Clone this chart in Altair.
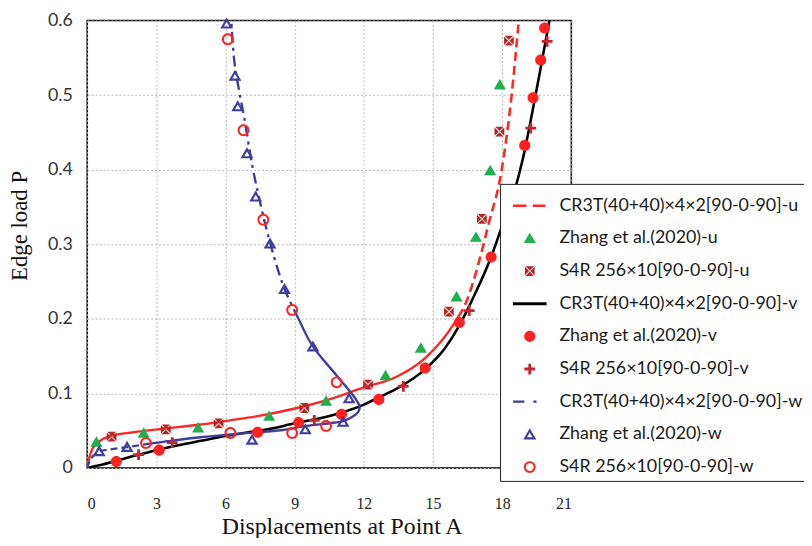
import altair as alt
import pandas as pd

x_ticks = [0, 3, 6, 9, 12, 15, 18, 21]
y_ticks = [0, 0.1, 0.2, 0.3, 0.4, 0.5, 0.6]

series_names = [
    "CR3T(40+40)×4×2[90-0-90]-u",
    "Zhang et al.(2020)-u",
    "S4R 256×10[90-0-90]-u",
    "CR3T(40+40)×4×2[90-0-90]-v",
    "Zhang et al.(2020)-v",
    "S4R 256×10[90-0-90]-v",
    "CR3T(40+40)×4×2[90-0-90]-w",
    "Zhang et al.(2020)-w",
    "S4R 256×10[90-0-90]-w",
]
series_colors = ["#FF2626", "#1FAF4B", "#B02828", "#000000", "#FF2020",
                 "#C4262E", "#3E3E9E", "#3E3E9E", "#FF2020"]

# CR3T curves
u_x = [0, 0.1, 0.23, 0.5, 0.94, 2.0, 3.38, 4.81, 6.2, 7.39, 9.1, 10.5, 12.0, 13.4,
       14.68, 15.9, 16.1, 16.33, 17.05, 17.4, 17.98, 18.41, 18.72]
u_y = [0, 0.015, 0.026, 0.035, 0.0426, 0.048, 0.053, 0.058, 0.064, 0.0696, 0.0805,
       0.092, 0.108, 0.122, 0.148, 0.193, 0.203, 0.215, 0.283, 0.326, 0.4, 0.5, 0.6]

v_x = [0, 1.0, 2.0, 3.0, 4.0, 5.0, 6.0, 7.0, 8.0, 9.0, 10.0, 11.0, 12.0, 12.54, 13.4,
       14.68, 15.5, 16.12, 16.8, 17.52, 18.0, 18.5, 18.9, 19.4, 19.75, 20.05]
v_y = [0, 0.0075, 0.016, 0.024, 0.031, 0.037, 0.043, 0.048, 0.053, 0.06, 0.066, 0.074,
       0.085, 0.093, 0.106, 0.133, 0.16, 0.19, 0.232, 0.283, 0.325, 0.368, 0.415,
       0.492, 0.55, 0.6]

w_x = [0, 0.15, 0.52, 1.0, 1.73, 2.55, 3.5, 4.81, 6.2, 7.67, 8.5, 9.53, 10.5, 11.1,
       11.54, 11.75, 11.82, 11.68, 10.82, 9.79, 9.17, 8.56, 7.95, 7.53, 7.17, 6.81,
       6.6, 6.38, 6.25]
w_y = [0, 0.012, 0.022, 0.025, 0.028, 0.032, 0.036, 0.041, 0.045, 0.0487, 0.051,
       0.0565, 0.06, 0.063, 0.0695, 0.075, 0.082, 0.091, 0.124, 0.163, 0.2, 0.24,
       0.30, 0.352, 0.404, 0.47, 0.504, 0.546, 0.6]

# marker series
zu_x = [0.4, 2.45, 4.81, 7.89, 10.36, 12.94, 14.47, 16.02, 16.86, 17.48, 17.9]
zu_y = [0.0348, 0.047, 0.054, 0.0696, 0.090, 0.124, 0.161, 0.2296, 0.3096, 0.399, 0.514]

su_x = [1.06, 3.41, 5.7, 9.42, 12.18, 15.69, 17.12, 17.88, 18.29]
su_y = [0.042, 0.052, 0.06, 0.0805, 0.112, 0.2096, 0.334, 0.451, 0.573]

zv_x = [1.26, 3.12, 7.39, 9.17, 11.03, 12.65, 14.66, 16.14, 17.52, 18.98, 19.34, 19.67, 19.84]
zv_y = [0.0087, 0.024, 0.048, 0.061, 0.072, 0.092, 0.134, 0.195, 0.283, 0.4326, 0.4965, 0.547, 0.590]

sv_x = [2.23, 3.69, 9.85, 13.71, 16.57, 19.24, 19.95]
sv_y = [0.018, 0.034, 0.064, 0.1096, 0.211, 0.4557, 0.572]

zw_x = [0.52, 1.73, 7.15, 9.46, 11.1, 11.36, 9.79, 8.56, 7.93, 7.31, 6.93, 6.53, 6.41, 6.05]
zw_y = [0.0226, 0.0283, 0.038, 0.052, 0.062, 0.0935, 0.163, 0.240, 0.301, 0.364, 0.422,
        0.485, 0.526, 0.596]

sw_x = [2.55, 6.21, 8.89, 10.36, 10.82, 8.89, 7.64, 6.78, 6.1]
sw_y = [0.0335, 0.047, 0.047, 0.0565, 0.115, 0.212, 0.333, 0.453, 0.575]

# symbol shapes (unit box -1..1)
line_dash = "M-1,-0.075H-0.2V0.075H-1Z M0.18,-0.075H0.92V0.075H0.18Z"
line_solid = "M-1,-0.09H1V0.09H-1Z"
line_dashdot = "M-1,-0.065H-0.32V0.065H-1Z M0.22,-0.065H0.4V0.065H0.22Z"
tri_fill = "M0,-0.34L0.36,0.28L-0.36,0.28Z"
sq_x = ("M-0.25,-0.29L0.25,-0.29L0,-0.035Z M0.29,-0.25L0.29,0.25L0.035,0Z "
        "M0.25,0.29L-0.25,0.29L0,0.035Z M-0.29,0.25L-0.29,-0.25L-0.035,0Z")
circ_fill = "M0.33,0A0.33,0.33 0 1,1 -0.33,0A0.33,0.33 0 1,1 0.33,0Z"
plus = "M-0.32,-0.085H0.32V0.085H-0.32Z M-0.085,-0.32H0.085V0.32H-0.085Z"
tri_open = "M0,-0.36L0.38,0.3L-0.38,0.3Z M0,-0.105L-0.16,0.172L0.16,0.172Z"
circ_open = ("M0.35,0A0.35,0.35 0 1,1 -0.35,0A0.35,0.35 0 1,1 0.35,0Z "
             "M0.235,0A0.235,0.235 0 1,0 -0.235,0A0.235,0.235 0 1,0 0.235,0Z")
series_shapes = [line_dash, tri_fill, sq_x, line_solid, circ_fill, plus,
                 line_dashdot, tri_open, circ_open]


def curve_df(xs, ys):
    return pd.DataFrame({"x": xs, "y": ys, "i": list(range(len(xs)))})


u_df = curve_df(u_x, u_y)
v_df = curve_df(v_x, v_y)
w_df = curve_df(w_x, w_y)

u_solid = u_df[u_df["y"] <= 0.203]
u_dash = u_df[u_df["y"] >= 0.203]

i_a = int(w_df.index[w_df["x"] >= 2.55][0])
i_c = int(w_df.index[(w_df["i"] > 16) & (w_df["y"] >= 0.2)][0])
w_a = w_df[w_df["i"] <= i_a]
w_b = w_df[(w_df["i"] >= i_a) & (w_df["i"] <= i_c)]
w_c = w_df[w_df["i"] >= i_c]

pts_rows = []
for name, xs, ys in [
    (series_names[1], zu_x, zu_y),
    (series_names[2], su_x, su_y),
    (series_names[4], zv_x, zv_y),
    (series_names[5], sv_x, sv_y),
    (series_names[7], zw_x, zw_y),
    (series_names[8], sw_x, sw_y),
]:
    for a, b in zip(xs, ys):
        pts_rows.append({"x": a, "y": b, "series": name})
pts_df = pd.DataFrame(pts_rows)

X = alt.X("x:Q", scale=alt.Scale(domain=[0, 21], nice=False, zero=False),
          axis=alt.Axis(values=x_ticks, title="Displacements at Point A",
                        labelFont="Liberation Serif", labelFontSize=16,
                        labelColor="#222222", labelPadding=28, labelAngle=0,
                        ticks=False, domain=False, grid=True,
                        gridColor="#b8b8b8", gridDash=[2, 2], gridWidth=1,
                        titleFont="Liberation Serif", titleFontSize=24,
                        titleFontWeight="normal", titleColor="#111111",
                        titlePadding=3, titleX=257))
Y = alt.Y("y:Q", scale=alt.Scale(domain=[0, 0.6], nice=False, zero=False),
          axis=alt.Axis(values=y_ticks, title="Edge load P",
                        labelExpr="datum.value == 0 ? '0' : format(datum.value, '.1f')",
                        labelFont="Lato", labelFontSize=18, labelColor="#333333",
                        labelPadding=15, ticks=False, domain=False, grid=True,
                        gridColor="#b8b8b8", gridDash=[2, 2], gridWidth=1,
                        titleFont="Liberation Serif", titleFontSize=23,
                        titleFontWeight="normal", titleColor="#111111",
                        titlePadding=16, titleY=207, titleAlign="center",
                        titleAngle=270))


def line_layer(df, color, width, interp, dash=None):
    kw = dict(color=color, strokeWidth=width, interpolate=interp, clip=True)
    if dash is not None:
        kw["strokeDash"] = dash
    return alt.Chart(df).mark_line(**kw).encode(x=X, y=Y, order="i:Q")


blue = series_colors[6]
layers = [
    line_layer(v_df, "#000000", 2.6, "monotone"),
    line_layer(u_solid, series_colors[0], 2.4, "monotone"),
    line_layer(u_dash, series_colors[0], 2.6, "monotone", [9, 5]),
    line_layer(w_a, blue, 2.4, "catmull-rom", [7, 4]),
    line_layer(w_b, blue, 2.4, "catmull-rom"),
    line_layer(w_c, blue, 2.4, "catmull-rom", [11, 5, 3, 5]),
]

leg = alt.Legend(title=None, orient="none", legendX=417, legendY=165,
                 direction="vertical", fillColor="white", strokeColor="#222222",
                 padding=5, symbolOffset=8, symbolSize=1156, symbolStrokeWidth=0,
                 labelFont="Lato", labelFontSize=18, labelColor="#1a1a1a",
                 labelLimit=400, labelOffset=13, rowPadding=7, symbolOpacity=1)

pts = alt.Chart(pts_df).mark_point(filled=True, opacity=1, strokeWidth=0, size=1156).encode(
    x=X, y=Y,
    color=alt.Color("series:N", scale=alt.Scale(domain=series_names, range=series_colors), legend=leg),
    shape=alt.Shape("series:N", scale=alt.Scale(domain=series_names, range=series_shapes), legend=leg),
)

chart = alt.layer(*layers, pts).properties(
    width=489, height=452,
    padding={"left": 80, "top": 10, "right": 235, "bottom": 68},
    autosize=alt.AutoSizeParams(type="none"),
    background="white",
).configure_view(stroke="black", strokeWidth=1.5)

chart.save("out.html", embed_options={"renderer": "svg", "actions": False})
